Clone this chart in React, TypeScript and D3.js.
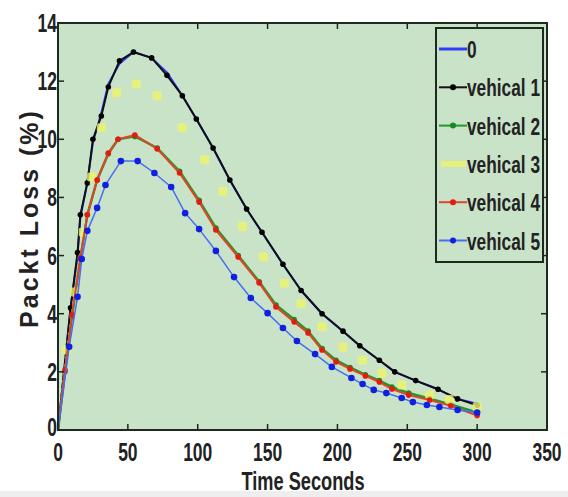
import React from "react";
import * as d3 from "d3";

// Time (s) / packet loss (%)
const series0T = [0, 9, 14, 16, 21, 25, 31, 36, 44, 54, 67, 78, 89, 99, 111, 123, 135, 146, 161, 174, 189, 204, 216, 230, 241, 256, 272, 286, 300];
const series0V = [0, 4.2, 6.0, 7.3, 8.5, 9.9, 10.9, 11.9, 12.6, 13.0, 12.8, 12.3, 11.5, 10.7, 9.7, 8.6, 7.6, 6.8, 5.7, 4.8, 4.0, 3.4, 2.9, 2.4, 2.0, 1.7, 1.4, 1.07, 0.9];

const vehical1T = [0, 9, 14, 16, 21, 25, 31, 36, 44, 54, 67, 78, 89, 99, 111, 123, 135, 146, 161, 174, 189, 204, 216, 230, 241, 256, 272, 286, 300];
const vehical1V = [0, 4.2, 6.1, 7.4, 8.5, 10.0, 10.8, 11.8, 12.7, 13.0, 12.8, 12.2, 11.5, 10.7, 9.7, 8.6, 7.6, 6.8, 5.7, 4.8, 4.0, 3.4, 2.9, 2.4, 2.0, 1.7, 1.4, 1.07, 0.85];

const vehical2T = [0, 5, 10, 16, 21, 28, 36, 43, 55, 71, 87, 101, 113, 129, 144, 156, 169, 179, 189, 199, 209, 220, 230, 239, 251, 266, 281, 300];
const vehical2V = [0, 2.0, 3.9, 5.9, 7.4, 8.6, 9.5, 10.0, 10.1, 9.7, 8.9, 7.9, 6.95, 6.0, 5.1, 4.3, 3.8, 3.4, 2.8, 2.4, 2.15, 1.9, 1.7, 1.48, 1.27, 1.08, 0.88, 0.6];

const vehical3T = [0, 6, 12, 18, 24, 31, 42, 56, 71, 89, 105, 118, 132, 147, 162, 174, 189, 204, 218, 232, 246, 266, 280, 300];
const vehical3V = [0, 2.75, 4.75, 6.8, 8.7, 10.4, 11.6, 11.9, 11.5, 10.4, 9.3, 8.2, 7.0, 5.95, 5.05, 4.35, 3.55, 2.85, 2.4, 1.95, 1.55, 1.2, 1.05, 0.8];

const vehical4T = [0, 5, 10, 16, 21, 28, 36, 43, 55, 71, 87, 101, 113, 129, 144, 156, 169, 179, 189, 199, 209, 220, 230, 239, 251, 266, 281, 300];
const vehical4V = [0, 2.06, 3.96, 5.92, 7.4, 8.6, 9.53, 10.0, 10.15, 9.67, 8.84, 7.84, 6.88, 5.95, 5.06, 4.23, 3.72, 3.34, 2.75, 2.34, 2.1, 1.86, 1.65, 1.41, 1.2, 1.03, 0.83, 0.5];

const vehical5T = [0, 8, 14, 17, 21, 28, 34, 45, 57, 69, 81, 91, 101, 113, 126, 138, 150, 161, 171, 184, 196, 210, 218, 226, 235, 246, 254, 264, 273, 286, 300];
const vehical5V = [0, 2.86, 4.58, 5.88, 6.85, 7.64, 8.43, 9.25, 9.25, 8.84, 8.36, 7.46, 6.91, 6.16, 5.26, 4.54, 4.02, 3.51, 3.06, 2.61, 2.17, 1.79, 1.58, 1.38, 1.27, 1.1, 0.96, 0.86, 0.79, 0.69, 0.6];

const legendLabels = ["0", "vehical  1", "vehical 2", "vehical 3", "vehical 4", "vehical 5"];
const xTicks = [0, 50, 100, 150, 200, 250, 300, 350];
const yTicks = [0, 2, 4, 6, 8, 10, 12, 14];

type Pt = { t: number; v: number };
const zip = (t: number[], v: number[]): Pt[] => t.map((d, i) => ({ t: d, v: v[i] }));

const W = 568;
const H = 497;
const margin = { top: 23, right: 21, bottom: 67, left: 58 };
const FONT = "'Liberation Sans', Arial, sans-serif";
const SQ = 0.7; // the original lettering is condensed

export default function App() {
  const x = d3.scaleLinear().domain([0, 350]).range([margin.left, W - margin.right]);
  const y = d3.scaleLinear().domain([0, 14]).range([H - margin.bottom, margin.top]);
  const line = d3.line<Pt>().x(d => x(d.t)).y(d => y(d.v));

  const series = [
    { name: "0", data: zip(series0T, series0V), stroke: "#2f3cff", width: 2, marker: null, mColor: "" },
    { name: "v1", data: zip(vehical1T, vehical1V), stroke: "#111", width: 2, marker: "dot", mColor: "#000" },
    { name: "v2", data: zip(vehical2T, vehical2V), stroke: "#1f9a2a", width: 2.5, marker: "dot", mColor: "#1a8a20" },
    { name: "v3", data: zip(vehical3T, vehical3V), stroke: "none", width: 0, marker: "sq", mColor: "#eef46a" },
    { name: "v4", data: zip(vehical4T, vehical4V), stroke: "#e0452a", width: 2, marker: "dot", mColor: "#e51a10" },
    { name: "v5", data: zip(vehical5T, vehical5V), stroke: "#4a6cf2", width: 1.5, marker: "dot", mColor: "#1020e0" },
  ];

  const [x0, x1] = x.range();
  const [yb, yt] = y.range();

  // legend
  const lgX = 436, lgY = 28, lgW = 107, lgH = 234;
  const rowH = 38.3;

  return (
    <svg width={W} height={H} style={{ position: "absolute", left: 0, top: 0, background: "#fff" }} fontFamily={FONT}>
      <rect x={0} y={491} width={W} height={6} fill="#eeeeee" />
      <rect x={x0} y={yt} width={x1 - x0} height={yb - yt} fill="#c9e3c9" />
      <defs>
        <clipPath id="clip">
          <rect x={x0} y={yt} width={x1 - x0} height={yb - yt} />
        </clipPath>
      </defs>
      <g clipPath="url(#clip)">
        {series.map(s => (
          <g key={s.name}>
            {s.stroke !== "none" && (
              <path d={line(s.data) || ""} fill="none" stroke={s.stroke} strokeWidth={s.width} strokeLinejoin="round" />
            )}
            {s.name === "v3" && (
              <path d={line(s.data) || ""} fill="none" stroke="#e4ee7a" strokeWidth={2} strokeDasharray="2 6" opacity={0.5} />
            )}
            {s.marker === "dot" &&
              s.data.slice(1).map((d, i) => (
                <circle key={i} cx={x(d.t)} cy={y(d.v)} r={s.name === "v5" ? 3.3 : 2.8} fill={s.mColor} />
              ))}
            {s.marker === "sq" &&
              s.data.slice(1).map((d, i) => (
                <rect key={i} x={x(d.t) - 4.5} y={y(d.v) - 4.5} width={9} height={9} rx={2} fill={s.mColor} opacity={0.8} />
              ))}
          </g>
        ))}
      </g>

      {/* ticks on all four sides */}
      {xTicks.map(t => (
        <g key={"xt" + t}>
          <line x1={x(t)} x2={x(t)} y1={yb} y2={yb - 6} stroke="#222" strokeWidth={1.5} />
          <line x1={x(t)} x2={x(t)} y1={yt} y2={yt + 6} stroke="#222" strokeWidth={1.5} />
          <text transform={`translate(${x(t)},${yb + 31}) scale(${SQ},1)`} textAnchor="middle" fontSize={25} fontWeight="bold" fill="#222">
            {t}
          </text>
        </g>
      ))}
      {yTicks.map(t => (
        <g key={"yt" + t}>
          <line x1={x0} x2={x0 + 6} y1={y(t)} y2={y(t)} stroke="#222" strokeWidth={1.5} />
          <line x1={x1} x2={x1 - 6} y1={y(t)} y2={y(t)} stroke="#222" strokeWidth={1.5} />
          <text transform={`translate(${x0 - 1},${y(t) + (t === 0 ? 6 : 9)}) scale(${SQ},1)`} textAnchor="end" fontSize={25} fontWeight="bold" fill="#222">
            {t}
          </text>
        </g>
      ))}
      <rect x={x0} y={yt} width={x1 - x0} height={yb - yt} fill="none" stroke="#1d2a1d" strokeWidth={2} />

      {/* legend */}
      <rect x={lgX} y={lgY} width={lgW} height={lgH} fill="#c9e3c9" stroke="#1d2a1d" strokeWidth={2} />
      {series.map((s, i) => {
        const cy = lgY + 21 + i * rowH;
        return (
          <g key={"lg" + s.name}>
            {s.name === "v3" ? (
              <line x1={lgX + 5} x2={lgX + 30} y1={cy} y2={cy} stroke="#eef46a" strokeWidth={6} opacity={0.8} />
            ) : (
              <line x1={lgX + 3} x2={lgX + 31} y1={cy} y2={cy} stroke={s.stroke} strokeWidth={s.name === "0" ? 3 : 2} />
            )}
            {s.marker === "dot" && <circle cx={lgX + 17} cy={cy} r={3} fill={s.mColor} />}
            <text transform={`translate(${lgX + 31},${cy + 9}) scale(${SQ + 0.02},1)`} fontSize={24} fontWeight="bold" fill="#222">
              {legendLabels[i]}
            </text>
          </g>
        );
      })}

      {/* axis titles */}
      <text transform={`translate(303,490) scale(${SQ},1)`} textAnchor="middle" fontSize={26} fontWeight="bold" fill="#222">
        Time Seconds
      </text>
      <text
        transform={`translate(38, 218) rotate(-90)`}
        textAnchor="middle"
        fontSize={25}
        fontWeight="bold"
        letterSpacing={3}
        fill="#222"
      >
        Packt Loss (%)
      </text>
    </svg>
  );
}
